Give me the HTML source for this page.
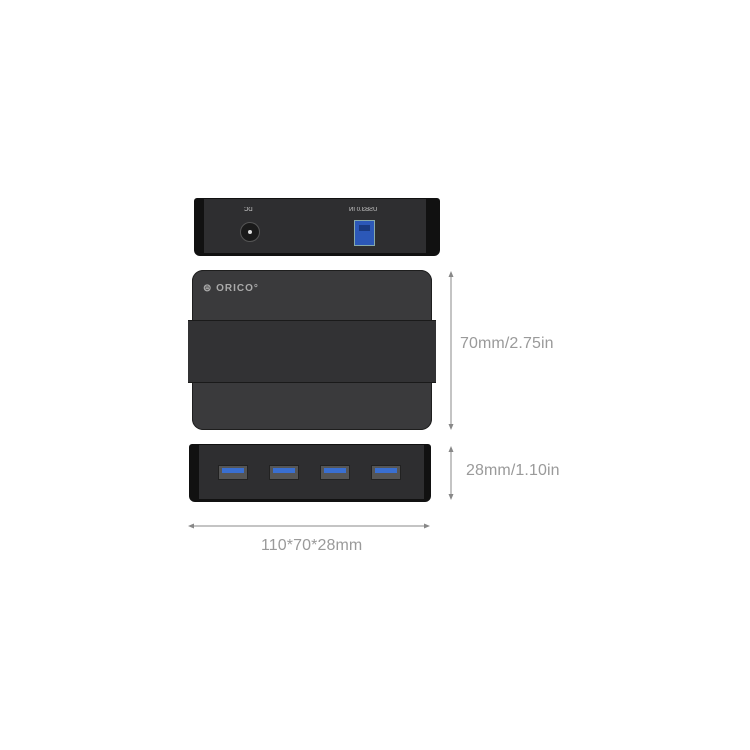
<!DOCTYPE html>
<html><head><style>
body{margin:0;width:750px;height:750px;background:#fff;position:relative;overflow:hidden;font-family:"Liberation Sans",sans-serif}
.a{position:absolute}
.port{position:absolute;top:465px;width:30px;height:15px;background:#555;border:1px solid #222;box-sizing:border-box}
.port i{position:absolute;left:3px;right:3px;top:2px;height:5px;background:#3a6fd0}
.lbl{position:absolute;color:#9a9a9a;font-size:16px;letter-spacing:0.1px}
</style></head><body>
<!-- top view -->
<div class="a" style="left:194px;top:198px;width:246px;height:58px;background:#111;border-radius:3px 3px 6px 6px"></div>
<div class="a" style="left:204px;top:199px;width:222px;height:54px;background:#2e2e30"></div>
<div class="a" style="left:240px;top:222px;width:20px;height:20px;border-radius:50%;background:#1a1a1a;border:1px solid #555;box-sizing:border-box"></div>
<div class="a" style="left:248px;top:230px;width:4px;height:4px;border-radius:50%;background:#ddd"></div>
<div class="a" style="left:244px;top:207px;font-size:6px;color:#ccc;transform:scaleX(-1)">DC</div>
<div class="a" style="left:349px;top:207px;font-size:6px;color:#ccc;transform:scaleX(-1)">USB3.0 IN</div>
<div class="a" style="left:354px;top:220px;width:21px;height:26px;background:#2c58b8;border:1px solid #8aa;box-sizing:border-box"></div>
<div class="a" style="left:359px;top:225px;width:11px;height:6px;background:#1a3a80"></div>
<!-- main body -->
<div class="a" style="left:192px;top:270px;width:240px;height:160px;background:#3a3a3c;border-radius:11px;box-shadow:inset 0 0 0 1px #1e1e1e"></div>
<div class="a" style="left:188px;top:320px;width:248px;height:63px;background:#323234;border-top:1px solid #1a1a1a;border-bottom:1px solid #1a1a1a;box-sizing:border-box"></div>
<div class="a" style="left:203px;top:283px;font-size:10px;color:#aaa;font-weight:bold;letter-spacing:1px">⊜ ORICO°</div>
<!-- bottom view -->
<div class="a" style="left:189px;top:444px;width:242px;height:58px;background:#111;border-radius:3px 3px 6px 6px"></div>
<div class="a" style="left:199px;top:445px;width:225px;height:54px;background:#2e2e30"></div>
<div class="port" style="left:218px"><i></i></div>
<div class="port" style="left:269px"><i></i></div>
<div class="port" style="left:320px"><i></i></div>
<div class="port" style="left:371px"><i></i></div>
<!-- dimensions -->
<svg class="a" style="left:0;top:0" width="750" height="750">
<g stroke="#888" fill="#888" stroke-width="1">
<line x1="451" y1="273" x2="451" y2="428"/>
<path d="M451 271 l-2.5 6 h5z M451 430 l-2.5 -6 h5z" stroke="none"/>
<line x1="451" y1="448" x2="451" y2="498"/>
<path d="M451 446 l-2.5 6 h5z M451 500 l-2.5 -6 h5z" stroke="none"/>
<line x1="190" y1="526" x2="428" y2="526"/>
<path d="M188 526 l6 -2.5 v5z M430 526 l-6 -2.5 v5z" stroke="none"/>
</g></svg>
<div class="lbl" style="left:460px;top:335px">70mm/2.75in</div>
<div class="lbl" style="left:466px;top:462px">28mm/1.10in</div>
<div class="lbl" style="left:261px;top:537px">110*70*28mm</div>
</body></html>
